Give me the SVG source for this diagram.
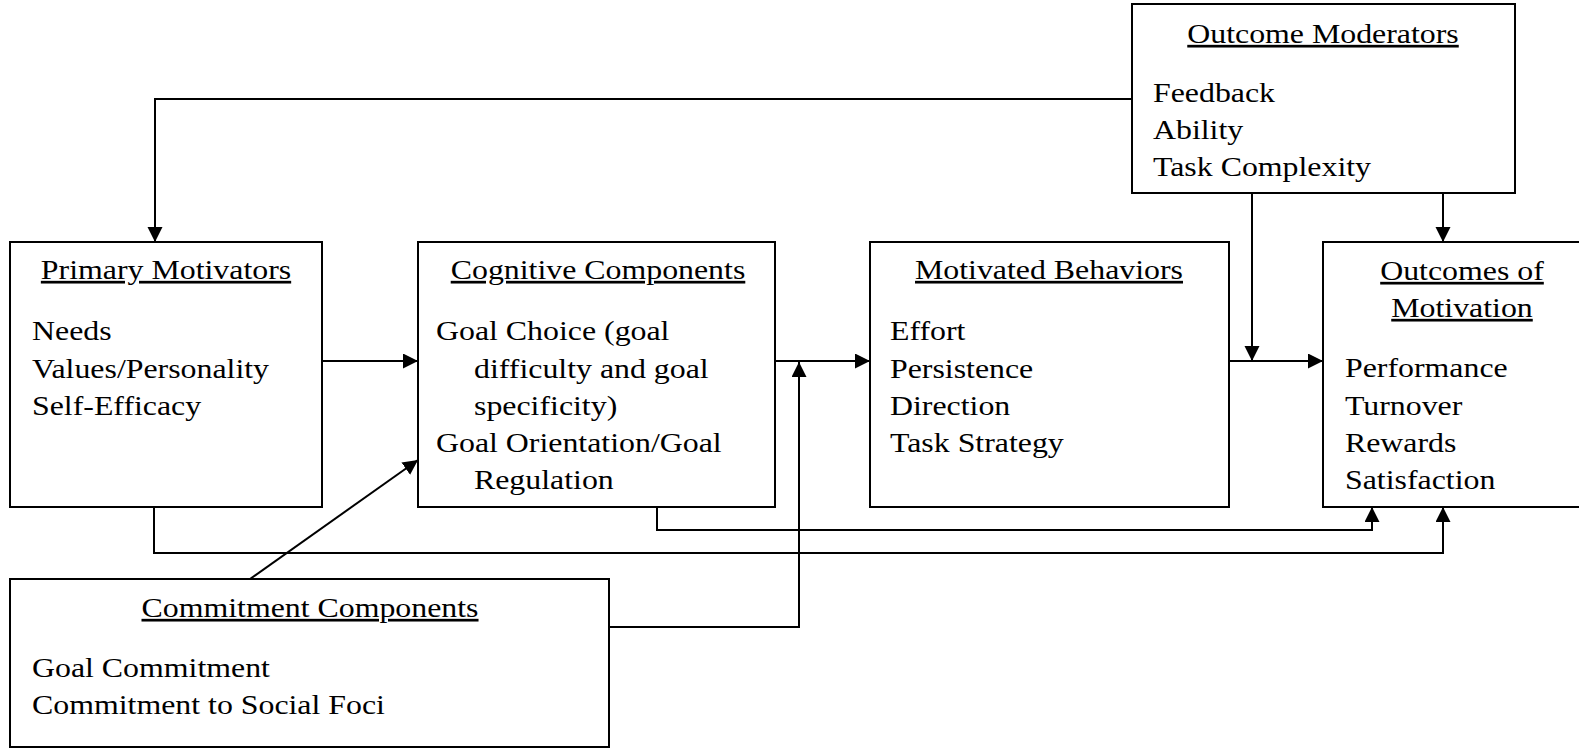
<svg xmlns="http://www.w3.org/2000/svg" width="1579" height="750" viewBox="0 0 1579 750">
<style>
  .box { fill: #ffffff; stroke: #000000; stroke-width: 2; }
  .conn { fill: none; stroke: #000000; stroke-width: 2; }
  text { font-family: "Liberation Serif", "Times New Roman", serif; font-size: 27px; fill: #000000; }
  .title { text-anchor: middle; text-decoration: underline; }
</style>
<defs>
  <marker id="arrow" markerUnits="userSpaceOnUse" markerWidth="16" markerHeight="16" refX="15" refY="7.5" orient="auto">
    <path d="M0,0 L15,7.5 L0,15 z" fill="#000000"/>
  </marker>
</defs>
<rect width="1579" height="750" fill="#ffffff"/>

<g id="connectors">
  <path class="conn" d="M1132,99 H155 V242" marker-end="url(#arrow)"/>
  <path class="conn" d="M322,361 H418" marker-end="url(#arrow)"/>
  <path class="conn" d="M250,579 L418,460" marker-end="url(#arrow)"/>
  <path class="conn" d="M775,361 H870" marker-end="url(#arrow)"/>
  <path class="conn" d="M609,627 H799 V362" marker-end="url(#arrow)"/>
  <path class="conn" d="M1229,361 H1323" marker-end="url(#arrow)"/>
  <path class="conn" d="M1252,193 V361" marker-end="url(#arrow)"/>
  <path class="conn" d="M1443,193 V242" marker-end="url(#arrow)"/>
  <path class="conn" d="M657,507 V530 H1372 V507" marker-end="url(#arrow)"/>
  <path class="conn" d="M154,507 V553 H1443 V507" marker-end="url(#arrow)"/>
</g>

<g id="outcome-moderators">
  <rect class="box" x="1132" y="4" width="383" height="189"/>
  <text class="title" transform="translate(1323 43) scale(1.18 1)">Outcome Moderators</text>
  <text transform="translate(1153 102) scale(1.18 1)">Feedback</text>
  <text transform="translate(1153 139) scale(1.18 1)">Ability</text>
  <text transform="translate(1153 176) scale(1.18 1)">Task Complexity</text>
</g>

<g id="primary-motivators">
  <rect class="box" x="10" y="242" width="312" height="265"/>
  <text class="title" transform="translate(166 279) scale(1.18 1)">Primary Motivators</text>
  <text transform="translate(32 340) scale(1.18 1)">Needs</text>
  <text transform="translate(32 378) scale(1.18 1)">Values/Personality</text>
  <text transform="translate(32 415) scale(1.18 1)">Self-Efficacy</text>
</g>

<g id="cognitive-components">
  <rect class="box" x="418" y="242" width="357" height="265"/>
  <text class="title" transform="translate(598 279) scale(1.18 1)">Cognitive Components</text>
  <text transform="translate(436 340) scale(1.18 1)">Goal Choice (goal</text>
  <text transform="translate(474 378) scale(1.18 1)">difficulty and goal</text>
  <text transform="translate(474 415) scale(1.18 1)">specificity)</text>
  <text transform="translate(436 452) scale(1.18 1)">Goal Orientation/Goal</text>
  <text transform="translate(474 489) scale(1.18 1)">Regulation</text>
</g>

<g id="motivated-behaviors">
  <rect class="box" x="870" y="242" width="359" height="265"/>
  <text class="title" transform="translate(1049 279) scale(1.18 1)">Motivated Behaviors</text>
  <text transform="translate(890 340) scale(1.18 1)">Effort</text>
  <text transform="translate(890 378) scale(1.18 1)">Persistence</text>
  <text transform="translate(890 415) scale(1.18 1)">Direction</text>
  <text transform="translate(890 452) scale(1.18 1)">Task Strategy</text>
</g>

<g id="outcomes-of-motivation">
  <rect class="box" x="1323" y="242" width="300" height="265"/>
  <text class="title" transform="translate(1462 280) scale(1.18 1)">Outcomes of</text>
  <text class="title" transform="translate(1462 317) scale(1.18 1)">Motivation</text>
  <text transform="translate(1345 377) scale(1.18 1)">Performance</text>
  <text transform="translate(1345 415) scale(1.18 1)">Turnover</text>
  <text transform="translate(1345 452) scale(1.18 1)">Rewards</text>
  <text transform="translate(1345 489) scale(1.18 1)">Satisfaction</text>
</g>

<g id="commitment-components">
  <rect class="box" x="10" y="579" width="599" height="168"/>
  <text class="title" transform="translate(310 617) scale(1.18 1)">Commitment Components</text>
  <text transform="translate(32 677) scale(1.18 1)">Goal Commitment</text>
  <text transform="translate(32 714) scale(1.18 1)">Commitment to Social Foci</text>
</g>
</svg>
